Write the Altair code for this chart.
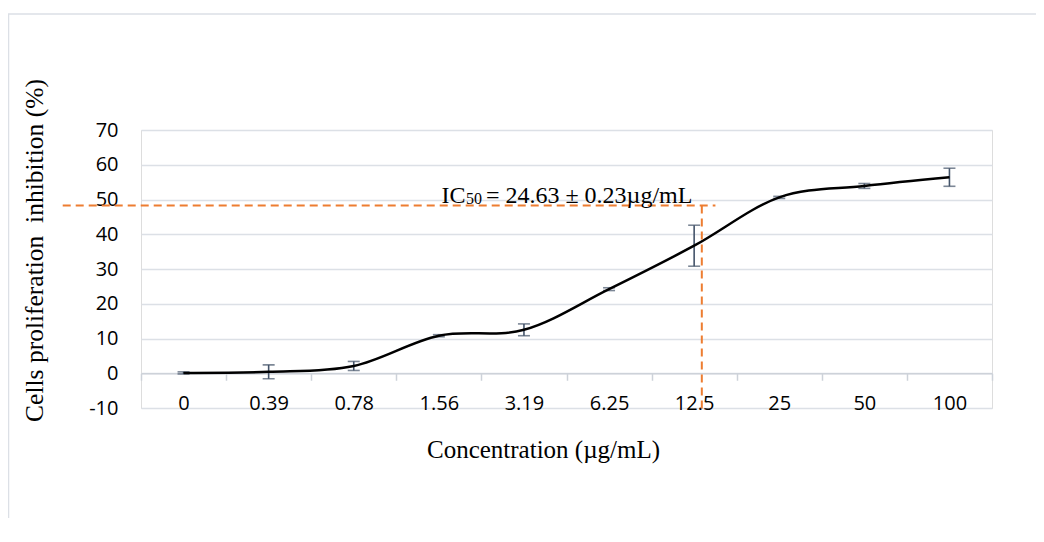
import altair as alt
import pandas as pd

# ---------------- data ----------------
concentrations = ["0", "0.39", "0.78", "1.56", "3.19", "6.25", "12.5", "25", "50", "100"]
inhibition = [0.1, 0.4, 2.1, 10.8, 12.5, 24.2, 36.7, 50.6, 53.9, 56.4]
std_dev = [0.3, 2.0, 1.3, 0.3, 1.7, 0.4, 5.9, 0.3, 0.7, 2.6]
y_ticks = [-10, 0, 10, 20, 30, 40, 50, 60, 70]

# IC50 guide (x in category-index units, y in %)
ic50_level = 48.3
ic50_h_x = [-1.42, 6.25]
ic50_v_x = 6.09
ic50_v_bottom = -11.2
ic50_text_anchor = [3.03, 49.0]
ic50_text_parts = ["IC", "50", "= 24.63 ± 0.23µg/mL"]

x_title = "Concentration (µg/mL)"
y_title = "Cells proliferation \u00a0inhibition (%)"

# ---------------- tables ----------------
df = pd.DataFrame({"conc": concentrations, "inh": inhibition, "sd": std_dev})
df["lo"] = df["inh"] - df["sd"]
df["hi"] = df["inh"] + df["sd"]

guide_df = pd.DataFrame({
    "x": [ic50_h_x[0], ic50_v_x],
    "x2": [ic50_h_x[1], ic50_v_x],
    "y": [ic50_level, ic50_level],
    "y2": [ic50_level, ic50_v_bottom],
})
text_df = pd.DataFrame({"x": [ic50_text_anchor[0]], "y": [ic50_text_anchor[1]]})

W, H = 851, 278
GRID = "#DCE0E6"
SERIF = "Liberation Serif"
SANS = "Open Sans"

x_axis = alt.Axis(
    title=x_title, titleFont=SERIF, titleFontSize=25, titleFontWeight="normal",
    titleColor="#000000", titleX=402, titleY=84.5, titleAlign="center",
    titleBaseline="alphabetic", titleAnchor="start",
    labelAngle=0, labelFont=SANS, labelFontSize=20, labelColor="#000000",
    labelBaseline="middle", labelPadding=23.5,
    tickBand="extent", tickSize=7, tickColor="#CDD2D9", tickWidth=1.5,
    domainColor="#CDD2D9", domainWidth=1.5, grid=False,
    offset=-H / 8,
)
y_axis = alt.Axis(
    title=y_title, titleFont=SERIF, titleFontSize=25.5, titleFontWeight="normal",
    titleColor="#000000", titleX=-99, titleY=120, titleAngle=-90,
    titleAlign="center", titleBaseline="alphabetic", titleAnchor="start",
    values=y_ticks, labelExpr="'' + datum.value",
    labelFont=SANS, labelFontSize=20, labelColor="#000000",
    labelPadding=23, ticks=False, domain=False,
    grid=True, gridColor=GRID, gridWidth=1.5,
)
x_band = alt.Scale(paddingInner=0, paddingOuter=0)
y_scale = alt.Scale(domain=[-10, 70], nice=False, zero=False)

base = alt.Chart(df)

line = base.mark_line(color="#000000", strokeWidth=2.5, interpolate="cardinal").encode(
    x=alt.X("conc:N", sort=concentrations, scale=x_band, axis=x_axis),
    y=alt.Y("inh:Q", scale=y_scale, axis=y_axis),
)
err_rule = base.mark_rule(color="#44546A", strokeWidth=1.6).encode(
    x=alt.X("conc:N", sort=concentrations, scale=x_band, axis=x_axis),
    y=alt.Y("lo:Q", scale=y_scale, axis=y_axis),
    y2="hi:Q",
)
cap_lo = base.mark_tick(color="#44546A", thickness=1.6, size=12).encode(
    x=alt.X("conc:N", sort=concentrations, scale=x_band, axis=x_axis),
    y=alt.Y("lo:Q", scale=y_scale, axis=y_axis),
)
cap_hi = base.mark_tick(color="#44546A", thickness=1.6, size=12).encode(
    x=alt.X("conc:N", sort=concentrations, scale=x_band, axis=x_axis),
    y=alt.Y("hi:Q", scale=y_scale, axis=y_axis),
)

main = alt.layer(err_rule, cap_lo, cap_hi, line)

idx_scale = alt.Scale(domain=[-0.5, len(concentrations) - 0.5], nice=False, zero=False)
guides = alt.Chart(guide_df).mark_rule(
    color="#ED7D31", strokeWidth=2, strokeDash=[8, 5]
).encode(
    x=alt.X("x:Q", scale=idx_scale, axis=None),
    x2="x2:Q",
    y=alt.Y("y:Q", scale=y_scale, axis=y_axis),
    y2="y2:Q",
)

def txt(part, dx, dy, size):
    return alt.Chart(text_df).mark_text(
        text=part, font=SERIF, fontSize=size, color="#000000",
        align="left", baseline="alphabetic", dx=dx, dy=dy,
    ).encode(
        x=alt.X("x:Q", scale=idx_scale, axis=None),
        y=alt.Y("y:Q", scale=y_scale, axis=y_axis),
    )

ann = alt.layer(
    txt(ic50_text_parts[0], 0, 0, 24),
    txt(ic50_text_parts[1], 24.5, 1, 16),
    txt(ic50_text_parts[2], 44.5, 0, 24),
)

frame = alt.Chart(alt.Data(values=[{}])).mark_rect(
    fillOpacity=0, stroke="#DCE0E6", strokeWidth=1.5
).encode(
    x=alt.value(-132.5), x2=alt.value(1400),
    y=alt.value(-116), y2=alt.value(1400),
)

chart = alt.layer(frame, main, guides, ann).resolve_scale(x="independent").properties(
    width=W, height=H,
    autosize=alt.AutoSizeParams(type="none"),
    padding={"left": 133, "top": 122, "right": 44, "bottom": 110},
).configure_view(stroke=None).configure(background="white")

chart.save("out.html", embed_options={"renderer": "svg", "actions": False})
